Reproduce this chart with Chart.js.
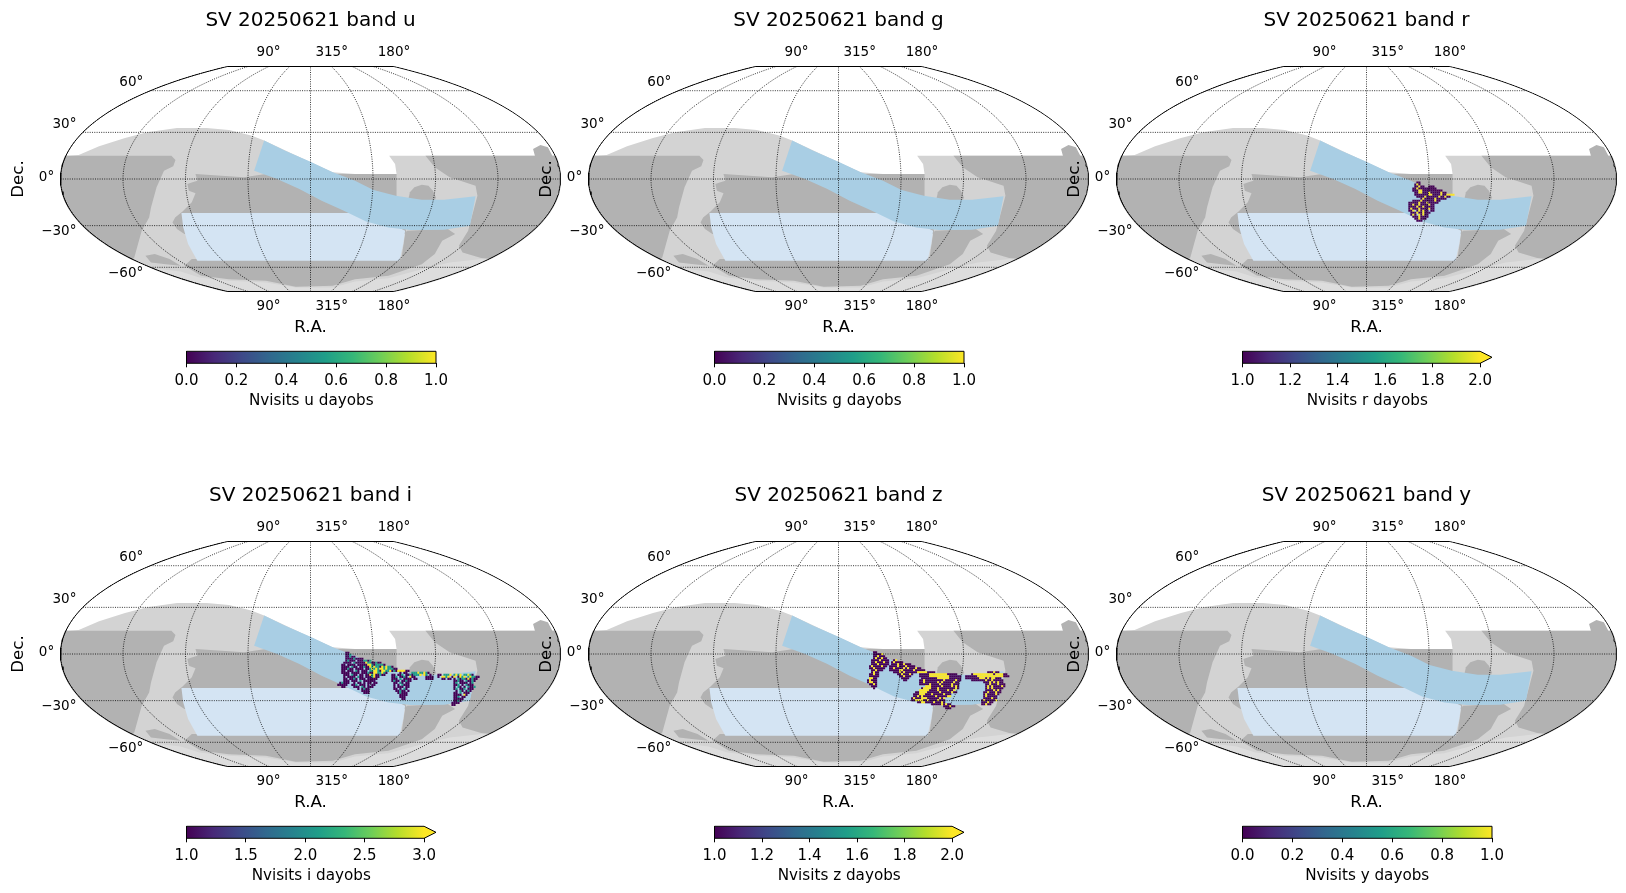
<!DOCTYPE html>
<html>
<head>
<meta charset="utf-8">
<title>SV 20250621</title>
<script src="https://cdn.jsdelivr.net/npm/chart.js@4"></script>
<style>
  body { margin: 0; background: #fff; }
  #page { position: relative; width: 1626px; height: 893px; overflow: hidden; }
  canvas { position: absolute; }
</style>
</head>
<body>
<div id="page"></div>
<script>
// Panels
const bands = ['u', 'g', 'r', 'i', 'z', 'y'];
const colorMin = [0, 0, 1, 1, 1, 0];
const colorMax = [1, 1, 2, 3, 2, 1];
const colorExtended = [false, false, true, true, true, false];
const colorTicks = [
  [0, 0.2, 0.4, 0.6, 0.8, 1],
  [0, 0.2, 0.4, 0.6, 0.8, 1],
  [1, 1.2, 1.4, 1.6, 1.8, 2],
  [1, 1.5, 2, 2.5, 3],
  [1, 1.2, 1.4, 1.6, 1.8, 2],
  [0, 0.2, 0.4, 0.6, 0.8, 1]
];

// Graticule, degrees
const raCenter = 315;
const raGrid = [0, 45, 90, 135, 180, 225, 270, 315];
const decGrid = [-60, -30, 0, 30, 60];
const raTickLabels = ['90°', '315°', '180°'];
const raTickSpots = [727, 897, 1065];
const decTickLabels = ['60°', '30°', '0°', '−30°', '−60°'];
const decTickSpotX = [389, 209, 149, 209, 389];
const decTickSpotY = [245, 372, 530, 692, 818];

// Footprint regions, in map-plane units
const lightRegion = [[100,465],[188,465],[215,463],[270,437],[340,412],[400,395],[480,382],[560,382],[620,388],[680,405],[715,420],[840,485],[900,515],[960,520],[1072,520],[1068,490],[1052,465],[1150,465],[1600,465],[1600,900],[100,900]];
const southRegion = [[100,900],[350,775],[400,800],[490,812],[540,830],[620,840],[720,845],[800,860],[900,860],[960,842],[1050,832],[1140,805],[1215,785],[1300,775],[1600,790],[1600,900]];
const darkLeft = [[100,465],[465,465],[476,478],[470,497],[445,510],[425,560],[410,620],[405,650],[385,690],[375,730],[365,770],[340,800],[100,800]];
const darkCentre = [[530,520],[600,525],[660,530],[720,520],[1072,520],[1072,590],[1100,700],[500,700],[480,685],[468,665],[475,650],[495,632],[520,605],[530,578],[512,570],[508,550],[522,545],[535,540]];
const darkSouth = [[520,775],[1085,775],[1095,700],[1100,690],[1210,685],[1230,700],[1195,720],[1175,760],[1140,790],[1050,825],[960,835],[900,855],[800,858],[720,840],[620,835],[545,825],[500,795]];
const darkRight = [[1150,465],[1445,465],[1440,445],[1460,433],[1480,440],[1492,465],[1600,465],[1600,800],[1300,772],[1250,755],[1240,735],[1265,690],[1290,585],[1285,555],[1215,530],[1175,500]];
const darkPatch = [[1105,590],[1108,575],[1120,560],[1140,552],[1158,555],[1170,570],[1178,590],[1170,620],[1110,620]];
const darkSmall = [[395,765],[420,760],[460,775],[490,795],[450,790],[410,785]];
const paleRegion = [[492,637],[1000,637],[1095,690],[1090,730],[1080,780],[535,780],[510,730],[497,680]];
const stripRegion = [[715,420],[770,450],[840,483],[900,515],[960,540],[1010,568],[1070,585],[1140,597],[1200,597],[1285,587],[1270,675],[1200,687],[1110,688],[1050,680],[990,662],[930,630],[870,600],[810,565],[750,535],[688,510]];

// Nvisits per healpixel, one string per row, "column:values"
const rCells = [
  '4:11', '3:121', '3:11211 10:111', '2:112111111111', '2:111221111111111',
  '3:1122111211111211', '3:11111112211112112222', '4:11112111111211211',
  '6:1211111211111', '2:11112111111211', '0:111112111211111', '0:1121121111211',
  '0:1111211211111', '0:1211121111211', '0:112.121211.11', '1:1112112111',
  '1:121.21211', '2:11121111', '3:112111', '4:111'
];
const iCells = [
  '4:11', '4:112', '4:11211', '4:111121111', '4:12111.1112212',
  '3:1111.21111132211211', '2:11.1111.11111332122221', '2:1111.211.11211323221323221',
  '2:111211.1111.1123232332322211', '2:11.111.21.111.22332133223121333311',
  '2:1111.1111.1112113322321 31:1.11 37:222322321',
  '3:111.211.11.1132311211 27:11.112.11 35:1212223.32.1 50:11.2223.2323.22321',
  '3:1.1111.211.1112311 27:112.1121.311 44:1111 50:1.3323.13.1323.232211',
  '3:11.1121.111.11111 27:111.2.1111.11 44:1111 52:11.11.1.2122131211',
  '3:111.111.2.111111 27:1211.11211 58:11211.21121',
  '1:12111 8:1.11.1.11.11 28:11.21.11 58:12.1111.12',
  '0:11111 7:112.111.1.11 28:1.1.2111 58:112.1.2111',
  '2:11 8:111.21.111 28:1.111.11 58:1.21.1.2112',
  '10:1.1211 28:11.1.21 58:12.112.111',
  '12:1111 29:11211.1 59:1.21.121',
  '13:111 30:12111 58:11.2.111',
  '31:1111 58:1111.31', '31:111 58:112.11', '32:11 58:11111', '58:1121', '57:1111', '57:11'
];
const zCells = [
  '3:11', '3:11112', '3:112111', '3:1211211', '2:111121111 13:12',
  '2:112111211 12:121111', '2:111211111 12:1112112111', '1:121111211 11:1111211121111',
  '1:11211111 11:1121111212111211', '2:112111 11:111112211111211111',
  '2:1211 13:111212111111 25:222221111 60:111211',
  '1:11211 15:11211121 26:1111122222222211111 52:122222222221222211',
  '1:11111 16:112111 26:111112222222222111111 49:1111112222222222222111',
  '1:2211 17:1111 27:11111111222222111111 49:111111122212122111',
  '0:12111 18:11 26:112111111111211111211 52:111111 58:1211211111',
  '0:12211 26:11211111121211111211 58:1112121211',
  '1:1121 26:11111211112111112111 59:1121112111',
  '2:111 29:22211111211112121 59:1212111121',
  '3:1 27:1222211121111111121 59:121211111',
  '26:222221111211112112 59:11112121',
  '24:112222111111211111211 58:112111211',
  '23:1112221112111112111 58:12111121',
  '23:1121211111121111122 58:1211111',
  '22:12111222111111212 58:1111211',
  '22:11222211211112111 57:12111112',
  '25:11221111211121 57:111211',
  '32:1111121211 57:11211',
  '38:111211', '39:111'
];
const cellsByBand = { r: rCells, i: iCells, z: zCells };
const cellStart = { r: [955.6, 546], i: [915, 531.4], z: [919.7, 529.6] };
const cellStep = [5.4, 6];

// Colors
const viridis = ['#440154', '#482878', '#3e4989', '#31688e', '#26828e', '#1f9e89', '#35b779', '#6ece58', '#b5de2b', '#fde725'];
const FONT = "'DejaVu Sans'";

// Page layout
const panelX = [0, 527.8, 1055.6];
const panelY = [0.5, 475.5];

// Map plane
const MAP_X = { min: 166, max: 1514, mid: 840, half: 674 };
const MAP_Y = { min: 198, max: 872, mid: 535, half: 337 };

// McBryde-Thomas flat-polar quartic, lon and lat in degrees
function project(lon, lat) {
  const k = (1 + Math.SQRT1_2) * Math.sin(lat * Math.PI / 180);
  let t = lat * Math.PI / 180;
  for (let i = 0; i < 30; i++) {
    t -= (Math.sin(t / 2) + Math.sin(t) - k) / (Math.cos(t / 2) / 2 + Math.cos(t) + 1e-9);
  }
  const w = (1 + 2 * Math.cos(t) / Math.cos(t / 2)) / 3;
  return {
    x: MAP_X.mid + MAP_X.half * (lon / 180) * w,
    y: MAP_Y.mid - MAP_Y.half * Math.sin(t / 2) / Math.SQRT1_2
  };
}

function meridianLine(ra) {
  const lon = ((raCenter - ra + 540) % 360) - 180;
  const line = [];
  for (let lat = -90; lat <= 90; lat += 2) line.push(project(lon, lat));
  return line;
}

function parallelLine(dec) {
  const line = [];
  for (let lon = -180; lon <= 180; lon += 4) line.push(project(lon, dec));
  return line;
}

function outlineLine() {
  const line = [];
  for (let lat = -90; lat <= 90; lat += 2) line.push(project(180, lat));
  for (let lat = 90; lat >= -90; lat -= 2) line.push(project(-180, lat));
  line.push(line[0]);
  return line;
}

function toPoints(region) {
  return region.map(([x, y]) => ({ x, y }));
}

function decodeCells(band) {
  const [x0, y0] = cellStart[band];
  const points = [];
  cellsByBand[band].forEach((row, k) => {
    row.split(' ').forEach(span => {
      const [col, values] = span.split(':');
      [...values].forEach((c, j) => {
        if (c !== '.') {
          points.push({ x: x0 + (Number(col) + j) * cellStep[0], y: y0 + k * cellStep[1], v: Number(c) });
        }
      });
    });
  });
  return points;
}

function viridisAt(f) {
  const i = Math.round(Math.max(0, Math.min(1, f)) * (viridis.length - 1));
  return viridis[i];
}

function regionSet(region, color) {
  return {
    type: 'scatter', showLine: true, data: toPoints(region), fill: 'shape',
    backgroundColor: color, borderWidth: 0, pointRadius: 0, tension: 0
  };
}

function guideSet(line) {
  return {
    type: 'scatter', showLine: true, data: line, fill: false, borderColor: '#000',
    borderWidth: 0.8, borderDash: [1, 1.3], pointRadius: 0, tension: 0
  };
}

// Keeps the footprint inside the projection boundary
const boundaryClip = {
  id: 'boundaryClip',
  beforeDatasetsDraw(chart) {
    const { ctx, scales: { x, y } } = chart;
    const cx = x.getPixelForValue(MAP_X.mid);
    const cy = y.getPixelForValue(MAP_Y.mid);
    ctx.save();
    ctx.beginPath();
    outlineLine().forEach((p, i) => {
      const px = cx + (x.getPixelForValue(p.x) - cx) * 1.003;
      const py = cy + (y.getPixelForValue(p.y) - cy) * 1.006;
      if (i === 0) ctx.moveTo(px, py); else ctx.lineTo(px, py);
    });
    ctx.closePath();
    ctx.clip();
  },
  afterDatasetsDraw(chart) {
    chart.ctx.restore();
  }
};

// Declination labels sit next to the boundary, not on an axis edge
const decLabels = {
  id: 'decLabels',
  afterDraw(chart) {
    const { ctx, scales: { x, y } } = chart;
    ctx.save();
    ctx.font = '13.5px ' + FONT;
    ctx.fillStyle = '#000';
    ctx.textAlign = 'right';
    ctx.textBaseline = 'middle';
    decTickLabels.forEach((label, i) => {
      ctx.fillText(label, x.getPixelForValue(decTickSpotX[i]), y.getPixelForValue(decTickSpotY[i]));
    });
    ctx.restore();
  }
};

function addCanvas(left, top, width, height) {
  const canvas = document.createElement('canvas');
  canvas.width = width;
  canvas.height = height;
  canvas.style.left = left + 'px';
  canvas.style.top = top + 'px';
  canvas.style.width = width + 'px';
  canvas.style.height = height + 'px';
  document.getElementById('page').appendChild(canvas);
  return canvas;
}

function raAxis(position, padding, extra) {
  return Object.assign({
    type: 'linear', position, axis: 'x', min: MAP_X.min, max: MAP_X.max,
    grid: { display: false, drawTicks: false, tickLength: 0 }, border: { display: false },
    afterBuildTicks(scale) { scale.ticks = raTickSpots.map(value => ({ value })); },
    ticks: {
      autoSkip: false, maxRotation: 0, padding, color: '#000',
      font: { family: FONT, size: 13.5 },
      callback: (value, i) => raTickLabels[i]
    }
  }, extra);
}

function drawMap(index) {
  const band = bands[index];
  const datasets = [
    regionSet(lightRegion, '#d3d3d3'),
    regionSet(southRegion, '#dddddd'),
    regionSet(darkLeft, '#b2b2b2'),
    regionSet(darkCentre, '#b2b2b2'),
    regionSet(darkSouth, '#b2b2b2'),
    regionSet(darkRight, '#b2b2b2'),
    regionSet(darkPatch, '#b2b2b2'),
    regionSet(darkSmall, '#b2b2b2'),
    regionSet(paleRegion, '#d4e4f3'),
    regionSet(stripRegion, '#a9cee4')
  ];
  if (cellsByBand[band]) {
    datasets.push({
      type: 'scatter', data: decodeCells(band), showLine: false,
      pointStyle: 'rect', pointRadius: 1.5, pointBorderWidth: 0,
      pointBackgroundColor: ctx => viridisAt((ctx.raw.v - colorMin[index]) / (colorMax[index] - colorMin[index]))
    });
  }
  raGrid.forEach(ra => datasets.push(guideSet(meridianLine(ra))));
  decGrid.forEach(dec => datasets.push(guideSet(parallelLine(dec))));
  datasets.push({
    type: 'scatter', showLine: true, data: outlineLine(), fill: false, borderColor: '#000',
    borderWidth: 1, pointRadius: 0, tension: 0, clip: false
  });
  // last in the list goes on top
  datasets.forEach((d, i) => { d.order = datasets.length - i; });

  const canvas = addCanvas(panelX[index % 3], panelY[Math.floor(index / 3)], 566, 340);
  new Chart(canvas, {
    type: 'scatter',
    data: { datasets },
    plugins: [boundaryClip, decLabels],
    options: {
      responsive: false,
      animation: false,
      devicePixelRatio: 1,
      layout: { padding: { right: 5.5 } },
      plugins: {
        legend: { display: false },
        tooltip: { enabled: false },
        title: {
          display: true, text: 'SV 20250621 band ' + band, color: '#000', fullSize: false,
          font: { family: FONT, size: 20, weight: 'normal', lineHeight: 1.2 },
          padding: { top: 8, bottom: 0 }
        }
      },
      scales: {
        x: raAxis('bottom', 7, {
          afterFit(scale) { scale.height = 49.5; },
          title: {
            display: true, text: 'R.A.', color: '#000', padding: { top: 0, bottom: 3.4 },
            font: { family: FONT, size: 16.7 }
          }
        }),
        xTop: raAxis('top', 5.5, {
          afterFit(scale) { scale.height = 33.5; }
        }),
        y: {
          type: 'linear', reverse: true, min: MAP_Y.min, max: MAP_Y.max,
          grid: { display: false }, border: { display: false },
          ticks: { display: false },
          afterFit(scale) { scale.width = 60.5; },
          title: {
            display: true, text: 'Dec.', color: '#000', padding: { top: 8.5, bottom: 0 },
            font: { family: FONT, size: 16.7 }
          }
        }
      }
    }
  });
}

function drawColorbar(index) {
  const band = bands[index];
  const lo = colorMin[index];
  const hi = colorMax[index];
  const span = hi - lo;
  // the arrow takes 5% of the full bar length
  const top = colorExtended[index] ? hi + span * 0.05 : hi;
  const shape = colorExtended[index]
    ? [[lo, 0], [hi, 0], [top, 0.5], [hi, 1], [lo, 1], [lo, 0]]
    : [[lo, 0], [hi, 0], [hi, 1], [lo, 1], [lo, 0]];

  const canvas = addCanvas(panelX[index % 3] + 140, panelY[Math.floor(index / 3)] + 340, 340, 70);
  new Chart(canvas, {
    type: 'scatter',
    data: {
      datasets: [{
        showLine: true, data: toPoints(shape), fill: 'shape', borderColor: '#000', borderWidth: 1,
        pointRadius: 0, tension: 0, clip: false,
        backgroundColor(ctx) {
          const { chartArea, scales } = ctx.chart;
          if (!chartArea) return viridis[0];
          const g = ctx.chart.ctx.createLinearGradient(scales.x.getPixelForValue(lo), 0, scales.x.getPixelForValue(hi), 0);
          viridis.forEach((c, i) => g.addColorStop(i / (viridis.length - 1), c));
          return g;
        }
      }]
    },
    options: {
      responsive: false,
      animation: false,
      devicePixelRatio: 1,
      layout: { padding: { left: 46.5, right: 44, top: 10.3 } },
      plugins: { legend: { display: false }, tooltip: { enabled: false } },
      scales: {
        x: {
          type: 'linear', min: lo, max: top,
          grid: { display: true, drawOnChartArea: false, drawTicks: true, tickLength: 4, tickColor: '#000', tickWidth: 1 },
          border: { display: false },
          afterBuildTicks(scale) { scale.ticks = colorTicks[index].map(value => ({ value })); },
          afterFit(scale) { scale.height = 47.7; },
          ticks: {
            autoSkip: false, maxRotation: 0, padding: 5, color: '#000',
            font: { family: FONT, size: 15 },
            callback: value => value.toFixed(1)
          },
          title: {
            display: true, text: 'Nvisits ' + band + ' dayobs', color: '#000', padding: { top: 0, bottom: 1 },
            font: { family: FONT, size: 15.2 }
          }
        },
        y: { type: 'linear', min: 0, max: 1, display: false }
      }
    }
  });
}

bands.forEach((band, i) => {
  drawMap(i);
  drawColorbar(i);
});
</script>
</body>
</html>
